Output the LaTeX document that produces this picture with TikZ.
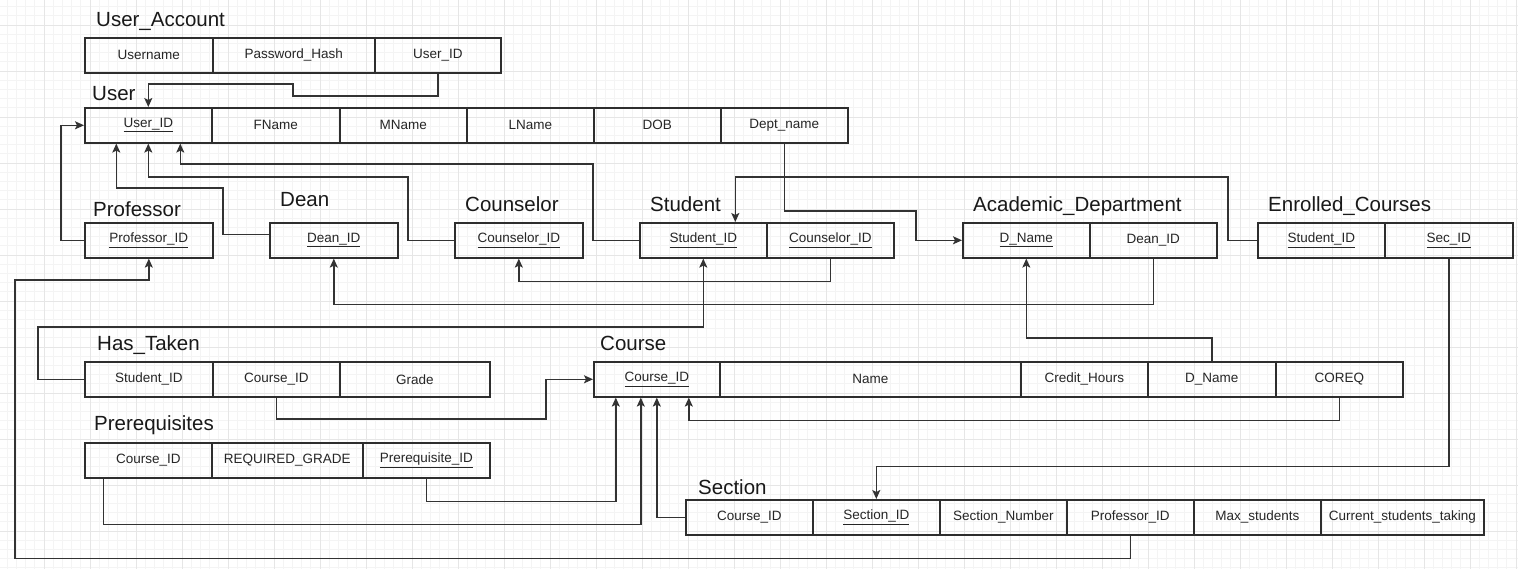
\documentclass[tikz,border=0pt]{standalone}
\usepackage{fontspec}
\setmainfont{Liberation Sans}
\usetikzlibrary{arrows.meta,calc}
\definecolor{lc}{HTML}{333333}
\definecolor{bc}{HTML}{2E2E2E}
\definecolor{gmaj}{HTML}{E6E6E6}
\definecolor{gmin}{HTML}{F4F4F4}
\tikzset{
  cell/.style={draw=bc, line width=1.6pt, minimum height=35pt, inner sep=0pt,
    anchor=north west, font=\fontsize{13.5}{16}\selectfont, text=black!85},
  ttl/.style={anchor=base west, inner sep=0pt, font=\fontsize{20.5}{24}\selectfont, text=black!90},
  fk/.style={draw=lc, line width=1.4pt, -{Stealth[length=9pt,width=8pt,inset=2pt]}},
}
\begin{document}
\begin{tikzpicture}[x=1pt,y=-1pt]
\useasboundingbox (0,0) rectangle (1518,569);
\fill[white] (0,0) rectangle (1518,569);
\begin{scope}
\clip (0,0) rectangle (1518,569);
\draw[gmin, line width=0.7pt, shift={(-2,25)}] (-20,-60) grid[step=9.2pt] (1540,580);
\draw[gmaj, line width=0.9pt, shift={(-2,25)}] (-20,-60) grid[step=46pt] (1540,580);
\end{scope}

% titles
\node[ttl] (tUA) at (96,27) {User\_Account};
\node[ttl] (tU) at (92,101) {User};
\node[ttl] (tPR) at (93,217) {Professor};
\node[ttl] (tDN) at (280,207) {Dean};
\node[ttl] (tCN) at (465,212) {Counselor};
\node[ttl] (tST) at (650,212) {Student};
\node[ttl] (tAD) at (973,212) {Academic\_Department};
\node[ttl] (tEC) at (1268,212) {Enrolled\_Courses};
\node[ttl] (tHT) at (97,350) {Has\_Taken};
\node[ttl] (tPQ) at (94,430) {Prerequisites};
\node[ttl] (tC) at (600,350) {Course};
\node[ttl] (tS) at (698,494) {Section};

% User_Account
\node[cell, minimum width=128pt] (ua1) at (84,37) {Username};
\node[cell, minimum width=162pt] (ua2) at (212,37) {Password\_Hash};
\node[cell, minimum width=126pt] (ua3) at (374,37) {User\_ID};
% User
\node[cell, minimum width=127pt] (u1) at (84,107) {\underline{User\_ID}};
\node[cell, minimum width=128pt] (u2) at (211,107) {FName};
\node[cell, minimum width=127pt] (u3) at (339,107) {MName};
\node[cell, minimum width=127pt] (u4) at (466,107) {LName};
\node[cell, minimum width=127pt] (u5) at (593,107) {DOB};
\node[cell, minimum width=127pt] (u6) at (720,107) {Dept\_name};
% row 2
\node[cell, minimum width=128pt] (pr) at (84,222) {\underline{Professor\_ID}};
\node[cell, minimum width=128pt] (dn) at (269,222) {\underline{Dean\_ID}};
\node[cell, minimum width=128pt] (cn) at (454,222) {\underline{Counselor\_ID}};
\node[cell, minimum width=127pt] (st1) at (639,222) {\underline{Student\_ID}};
\node[cell, minimum width=127pt] (st2) at (766,222) {\underline{Counselor\_ID}};
\node[cell, minimum width=127pt] (ad1) at (962,222) {\underline{D\_Name}};
\node[cell, minimum width=127pt] (ad2) at (1089,222) {Dean\_ID};
\node[cell, minimum width=127pt] (ec1) at (1257,222) {\underline{Student\_ID}};
\node[cell, minimum width=128pt] (ec2) at (1384,222) {\underline{Sec\_ID}};
% Has_Taken
\node[cell, minimum width=128pt] (ht1) at (84,361) {Student\_ID};
\node[cell, minimum width=127pt] (ht2) at (212,361) {Course\_ID};
\node[cell, minimum width=150pt] (ht3) at (339,361) {Grade};
% Course
\node[cell, minimum width=126pt] (c1) at (593,361) {\underline{Course\_ID}};
\node[cell, minimum width=301pt] (c2) at (719,361) {Name};
\node[cell, minimum width=127pt] (c3) at (1020,361) {Credit\_Hours};
\node[cell, minimum width=128pt] (c4) at (1147,361) {D\_Name};
\node[cell, minimum width=127pt] (c5) at (1275,361) {COREQ};
% Prerequisites
\node[cell, minimum width=127pt] (pq1) at (84,442) {Course\_ID};
\node[cell, minimum width=151pt] (pq2) at (211,442) {REQUIRED\_GRADE};
\node[cell, minimum width=127pt] (pq3) at (362,442) {\underline{Prerequisite\_ID}};
% Section
\node[cell, minimum width=127pt] (s1) at (685,499) {Course\_ID};
\node[cell, minimum width=127pt] (s2) at (812,499) {\underline{Section\_ID}};
\node[cell, minimum width=127pt] (s3) at (939,499) {Section\_Number};
\node[cell, minimum width=127pt] (s4) at (1066,499) {Professor\_ID};
\node[cell, minimum width=127pt] (s5) at (1193,499) {Max\_students};
\node[cell, minimum width=163pt] (s6) at (1320,499) {Current\_students\_taking};

% connectors
\draw[fk] (ua3.south) |- (293,96) -- (293,84) -| (u1.north);
\draw[fk] (pr.west) -- ++(-23,0) |- (u1.west);
\draw[fk] ($(dn.west)+(0,-6)$) -| (223,188) -| ($(u1.south)+(-32,0)$);
\draw[fk] (cn.west) -| (408,177) -| (u1.south);
\draw[fk] (st1.west) -| (593,164) -| ($(u1.south)+(32,0)$);
\draw[fk] (u6.south) |- (916,211) |- (ad1.west);
\draw[fk] (ec1.west) -| (1228,177) -| ($(st1.north)+(32,0)$);
\draw[fk] (ht1.west) -| (38,327) -| (st1.south);
\draw[fk] (st2.south) -- ++(0,23) -| (cn.south);
\draw[fk] (ad2.south) -- ++(0,46) -| (dn.south);
\draw[fk] (c4.north) -- ++(0,-23) -| (ad1.south);
\draw[fk] (ht2.south) |- (546,419) |- (c1.west);
\draw[fk] (c5.south) -- ++(0,23) -| ($(c1.south)+(32,0)$);
\draw[fk] (pq3.south) -- ++(0,23) -| ($(c1.south)+(-41,0)$);
\draw[fk] ($(pq1.south)+(-45,0)$) -- ++(0,46) -| ($(c1.south)+(-16,0)$);
\draw[fk] (s1.west) -| (c1.south);
\draw[fk] (ec2.south) -- ++(0,208) -| (s2.north);
\draw[fk] (s4.south) -- ++(0,23) -| (15,280) -| (pr.south);
\end{tikzpicture}
\end{document}
